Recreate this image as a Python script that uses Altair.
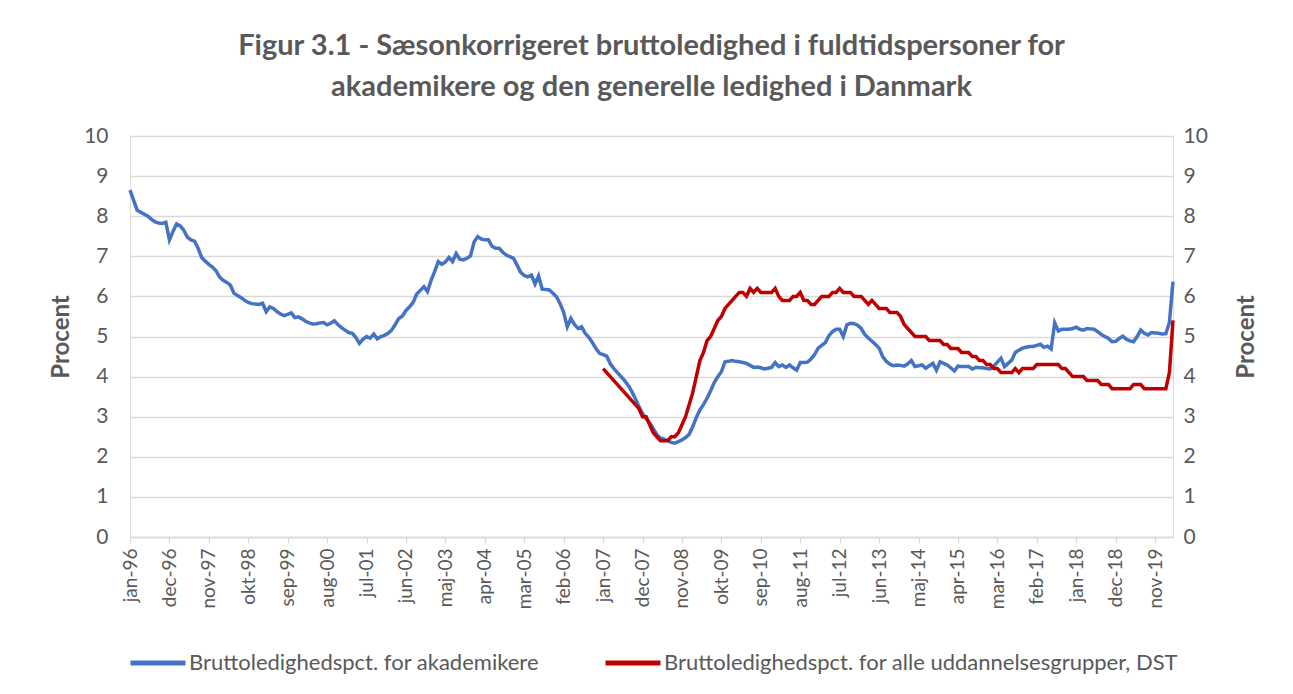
import json
import altair as alt
import pandas as pd

# ---------------- data ----------------
tick_labels = ["jan-96", "dec-96", "nov-97", "okt-98", "sep-99", "aug-00", "jul-01",
               "jun-02", "maj-03", "apr-04", "mar-05", "feb-06", "jan-07", "dec-07",
               "nov-08", "okt-09", "sep-10", "aug-11", "jul-12", "jun-13", "maj-14",
               "apr-15", "mar-16", "feb-17", "jan-18", "dec-18", "nov-19"]
tick_step = 11  # months between labels

series_names = ["Bruttoledighedspct. for akademikere",
                "Bruttoledighedspct. for alle uddannelsesgrupper, DST"]

# akademikere, monthly jan-96 .. apr-20
akademikere = [
    8.65, 8.40, 8.15, 8.10, 8.05, 8.00, 7.92, 7.86, 7.83, 7.82,
    7.85, 7.41, 7.62, 7.81, 7.76, 7.65, 7.48, 7.41, 7.38, 7.20,
    6.97, 6.88, 6.80, 6.73, 6.64, 6.48, 6.40, 6.35, 6.28, 6.08,
    6.02, 5.97, 5.90, 5.85, 5.82, 5.81, 5.80, 5.83, 5.62, 5.74,
    5.70, 5.62, 5.56, 5.52, 5.55, 5.59, 5.47, 5.49, 5.44, 5.38,
    5.34, 5.31, 5.32, 5.34, 5.35, 5.29, 5.33, 5.39, 5.30, 5.22,
    5.16, 5.10, 5.08, 4.98, 4.83, 4.93, 5.00, 4.96, 5.06, 4.94,
    5.00, 5.03, 5.08, 5.16, 5.30, 5.45, 5.51, 5.65, 5.74, 5.85,
    6.06, 6.15, 6.24, 6.12, 6.40, 6.62, 6.87, 6.80, 6.86, 6.97,
    6.87, 7.07, 6.93, 6.91, 6.95, 7.01, 7.36, 7.49, 7.43, 7.41,
    7.41, 7.25, 7.20, 7.20, 7.10, 7.03, 6.99, 6.95, 6.78, 6.60,
    6.52, 6.49, 6.53, 6.31, 6.51, 6.18, 6.17, 6.16, 6.08, 5.99,
    5.82, 5.60, 5.24, 5.45, 5.30, 5.20, 5.24, 5.08, 4.98, 4.85,
    4.70, 4.58, 4.55, 4.51, 4.32, 4.20, 4.10, 4.00, 3.90, 3.78,
    3.63, 3.45, 3.25, 3.08, 2.95, 2.84, 2.70, 2.55, 2.47, 2.44,
    2.40, 2.36, 2.34, 2.38, 2.42, 2.48, 2.56, 2.75, 2.98, 3.17,
    3.30, 3.46, 3.65, 3.85, 4.00, 4.12, 4.37, 4.38, 4.40, 4.38,
    4.37, 4.35, 4.33, 4.28, 4.23, 4.24, 4.22, 4.19, 4.21, 4.23,
    4.35, 4.25, 4.29, 4.23, 4.29, 4.22, 4.16, 4.35, 4.35, 4.36,
    4.44, 4.55, 4.71, 4.78, 4.85, 5.02, 5.12, 5.18, 5.18, 5.00,
    5.29, 5.33, 5.32, 5.28, 5.20, 5.05, 4.96, 4.88, 4.80, 4.71,
    4.50, 4.38, 4.31, 4.27, 4.29, 4.28, 4.26, 4.32, 4.40, 4.25,
    4.27, 4.29, 4.21, 4.27, 4.33, 4.16, 4.37, 4.33, 4.29, 4.22,
    4.14, 4.26, 4.25, 4.25, 4.25, 4.19, 4.23, 4.22, 4.22, 4.20,
    4.19, 4.26, 4.36, 4.46, 4.25, 4.33, 4.41, 4.60, 4.66, 4.71,
    4.73, 4.75, 4.75, 4.78, 4.81, 4.73, 4.76, 4.69, 5.34, 5.14,
    5.18, 5.18, 5.18, 5.20, 5.23, 5.18, 5.16, 5.20, 5.19, 5.18,
    5.12, 5.05, 5.00, 4.95, 4.87, 4.88, 4.95, 5.01, 4.93, 4.89,
    4.87, 5.00, 5.16, 5.08, 5.04, 5.10, 5.09, 5.08, 5.06, 5.07,
    5.35, 6.37,
]

# alle uddannelsesgrupper (DST), monthly from jan-07 (month index 132); None = no value
alle_start = 132
alle = [
    4.2, None, None, None, None, None, None, None, None, None,
    3.2, 3.0, 3.0, 2.8, 2.6, 2.5, 2.4, 2.4,
    2.4, 2.5, 2.5, 2.6, 2.8, 3.0, 3.3, 3.6, 4.0, 4.4,
    4.6, 4.9, 5.0, 5.2, 5.4, 5.5, 5.7, 5.8, 5.9, 6.0,
    6.1, 6.1, 6.0, 6.2, 6.1, 6.2, 6.1, 6.1, 6.1, 6.1,
    6.2, 6.0, 5.9, 5.9, 5.9, 6.0, 6.0, 6.1, 5.9, 5.9,
    5.8, 5.8, 5.9, 6.0, 6.0, 6.0, 6.1, 6.1, 6.2, 6.1,
    6.1, 6.1, 6.0, 6.0, 6.0, 5.9, 5.8, 5.9, 5.8, 5.7,
    5.7, 5.7, 5.6, 5.6, 5.6, 5.5, 5.3, 5.2, 5.1, 5.0,
    5.0, 5.0, 5.0, 4.9, 4.9, 4.9, 4.9, 4.8, 4.8, 4.7,
    4.7, 4.7, 4.6, 4.6, 4.6, 4.5, 4.5, 4.4, 4.4, 4.3,
    4.3, 4.2, 4.2, 4.1, 4.1, 4.1, 4.1, 4.2, 4.1, 4.2,
    4.2, 4.2, 4.2, 4.3, 4.3, 4.3, 4.3, 4.3, 4.3, 4.3,
    4.2, 4.2, 4.1, 4.0, 4.0, 4.0, 4.0, 3.9, 3.9, 3.9,
    3.9, 3.8, 3.8, 3.8, 3.7, 3.7, 3.7, 3.7, 3.7, 3.7,
    3.8, 3.8, 3.8, 3.7, 3.7, 3.7, 3.7, 3.7, 3.7, 3.7,
    4.1, 5.4,
]

y_ticks = [0, 1, 2, 3, 4, 5, 6, 7, 8, 9, 10]

# ---------------- tables ----------------
n_months = len(akademikere)
df_a = pd.DataFrame({"month": list(range(n_months)), "value": akademikere,
                     "serie": series_names[0]})
df_b = pd.DataFrame({"month": list(range(alle_start, alle_start + len(alle))),
                     "value": alle, "serie": series_names[1]}).dropna()

BLUE = "#4472C4"
RED = "#C00000"
GREY = "#595959"
GRID = "#D9D9D9"
FONT = "Lato"

W, H = 1043, 401

label_expr = f"{json.dumps(tick_labels)}[round(datum.value / {tick_step})]"

x_enc = alt.X(
    "month:Q",
    scale=alt.Scale(domain=[0, n_months - 1], nice=False, zero=False),
    axis=alt.Axis(
        values=list(range(0, tick_step * len(tick_labels), tick_step)),
        labelExpr=label_expr, labelAngle=270, labelFontSize=19,
        labelColor=GREY, labelFont=FONT, labelPadding=5, labelOverlap=False,
        labelBound=False, grid=False, ticks=True, tickSize=6, tickColor=GRID,
        tickWidth=1.3, domainColor=GRID, domainWidth=1.5, title=None,
    ),
)

color_enc = alt.Color(
    "serie:N",
    scale=alt.Scale(domain=series_names, range=[BLUE, RED]),
    legend=alt.Legend(
        orient="none", legendX=-2, legendY=497, direction="horizontal",
        title=None, symbolType="M-1,0L1,0", symbolSize=3025, symbolStrokeWidth=5,
        labelFontSize=22, labelColor=GREY, labelFont=FONT, labelOffset=1,
        columnPadding=56, labelLimit=0,
    ),
)


def y_axis(orient, grid):
    return alt.Axis(
        orient=orient, values=y_ticks, grid=grid, gridColor=GRID, gridWidth=1.3,
        ticks=False, domain=False, labelFontSize=21, labelColor=GREY,
        labelFont=FONT, labelPadding=22 if orient == "left" else 10,
        title="Procent", titleFontSize=24, titleFont=FONT, titleFontWeight="bold",
        titleColor=GREY, titleAngle=270,
        titlePadding=10 if orient == "left" else 51,
    )


line_a = alt.Chart(df_a).mark_line(strokeWidth=3.5).encode(
    x=x_enc,
    y=alt.Y("value:Q", scale=alt.Scale(domain=[0, 10], nice=False),
            axis=y_axis("left", True)),
    color=color_enc,
)

line_b = alt.Chart(df_b).mark_line(strokeWidth=3.5).encode(
    x=x_enc,
    y=alt.Y("value:Q", scale=alt.Scale(domain=[0, 10], nice=False),
            axis=y_axis("right", False)),
    color=color_enc,
)

chart = (
    alt.layer(line_a, line_b)
    .resolve_scale(y="independent")
    .properties(
        width=W, height=H,
        title=alt.TitleParams(
            text=["Figur 3.1 - Sæsonkorrigeret bruttoledighed i fuldtidspersoner for",
                  "akademikere og den generelle ledighed i Danmark"],
            fontSize=29, font=FONT, fontWeight="bold", color=GREY,
            anchor="middle", offset=23, lineHeight=41,
        ),
        autosize=alt.AutoSizeParams(type="none"),
        padding={"left": 122, "top": 128, "right": 112, "bottom": 149},
    )
    .configure_view(stroke=None)
    .configure(background="white")
)

chart.save("out.html", embed_options={"renderer": "svg", "actions": False})
